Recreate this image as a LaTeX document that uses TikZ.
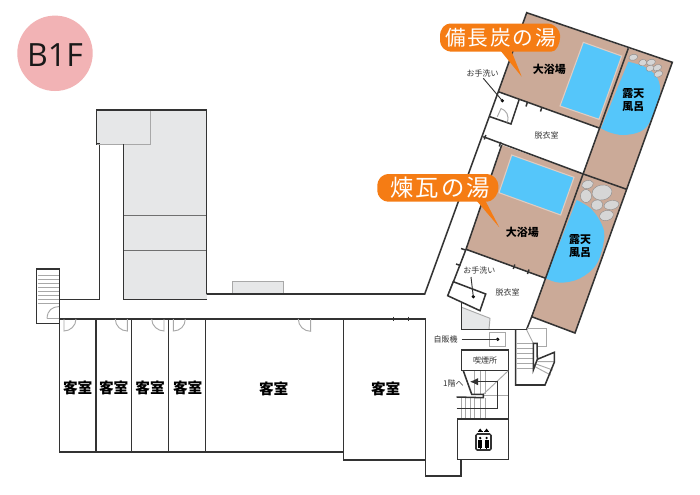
\documentclass[tikz,border=0pt]{standalone}
\usepackage{fontspec}
\setmainfont{Noto Sans CJK JP}
\newfontfamily\jp{Noto Sans CJK JP}
\newfontfamily\jpsp[LetterSpace=9]{Noto Sans CJK JP}
\newfontfamily\latinf{Open Sans}
\usetikzlibrary{arrows.meta}
\definecolor{wall}{HTML}{333333}
\definecolor{brownf}{HTML}{CBAA98}
\definecolor{pool}{HTML}{55C6FA}
\definecolor{grayf}{HTML}{E6E7E8}
\definecolor{grayl}{HTML}{A8A8A8}
\definecolor{orangef}{HTML}{F57C14}
\definecolor{pinkf}{HTML}{F2B3B5}
\definecolor{rockf}{HTML}{D6D6D6}
\tikzset{
  x=0.75pt,y=-0.75pt,
  wl/.style={draw=wall,line width=1.15pt},
  thinw/.style={draw=wall,line width=0.7pt},
  gl/.style={draw=grayl,line width=0.7pt},
  tick/.style={draw=wall,line width=1.1pt},
  rock/.style={fill=rockf,draw=black!45,line width=0.3pt},
  big/.style={font=\fontsize{11}{11}\jp\bfseries,text=black,inner sep=0pt},
  mid/.style={font=\fontsize{8.2}{8.2}\jp\bfseries,text=black,inner sep=0pt},
  small/.style={font=\fontsize{6}{6}\jp,text=wall,inner sep=0pt},
  call/.style={fill=orangef,rounded corners=3pt},
  calltext/.style={font=\fontsize{15.5}{15.5}\jpsp,text=white,inner sep=0pt},
}
\begin{document}
\begin{tikzpicture}[line join=miter]
\useasboundingbox (0,0) rectangle (700,494);
\fill[white] (0,0) rectangle (700,494);

% floor badge
\fill[pinkf] (55,53.3) circle (37.7);
\node[font=\fontsize{24}{24}\latinf,text=black!90,inner sep=0pt] (badge) at (55,55) {B1F};

% gray block at the left
\fill[grayf] (96.7,110) rectangle (206.7,144);
\fill[grayf] (123.3,144) rectangle (206.7,299.3);
\draw[gl] (150,110) -- (150,144) -- (123.3,144);
\draw[gl,draw=wall!70] (123.3,215.7) -- (206.7,215.7) (123.3,250) -- (206.7,250);
\draw[wl] (59.3,299.3) -- (99.3,299.3) -- (99.3,144) -- (96.7,144) -- (96.7,110) -- (206.7,110) -- (206.7,294);
\draw[wl] (123.3,144) -- (123.3,299.3) -- (206.7,299.3);
\draw[gl] (97,144) -- (123.3,144);

% corridor bump
\fill[grayf] (232.7,281) rectangle (283.3,294);
\draw[gl] (232.7,294) -- (232.7,281) -- (283.3,281) -- (283.3,294);

% left stair
\draw[wl] (36.7,269) rectangle (59.3,323.3);
\foreach \y in {275,279,283,287,291,295,299,303}
  \draw[gl] (37.5,\y) -- (58.8,\y);
\draw[gl] (47,318.5) .. controls (47.5,310) and (52,307) .. (59,306.5);
\draw[gl] (47,318.5) -- (59,318.5);

% guest rooms
\draw[wl] (206.7,294) -- (424.7,294) -- (498.3,91.7);
\draw[wl] (59.3,319) -- (425.7,319);
\draw[wl] (59.3,319) -- (59.3,452) -- (343.3,452);
\draw[wl] (96,319) -- (96,452) (131.7,319) -- (131.7,452) (168.7,319) -- (168.7,452) (205.3,319) -- (205.3,452);
\draw[wl] (343.3,319) -- (343.3,460) -- (425.7,460);
\draw[wl] (425.7,319) -- (425.7,476) -- (461,476) -- (461,459.3);
\node[big] (r1) at (77.7,387.7) {客室};
\node[big] (r2) at (113.7,387.7) {客室};
\node[big] (r3) at (150,387.7) {客室};
\node[big] (r4) at (187.7,387.7) {客室};
\node[big] (r5) at (273.7,389) {客室};
\node[big] (r6) at (385.7,389) {客室};

% doors
\draw[gl] (64,319) -- (64,331) .. controls (70,331) and (76,326) .. (76,319);
\draw[gl] (127.3,319) -- (127.3,331) .. controls (121,331) and (115.3,326) .. (115.3,319);
\draw[gl] (164,319) -- (164,331) .. controls (158,331) and (151.7,326) .. (151.7,319);
\draw[gl] (173.3,319) -- (173.3,331) .. controls (180,331) and (185.3,326) .. (185.3,319);
\draw[gl] (310.7,319) -- (310.7,331.3) .. controls (304,331.3) and (298.3,326) .. (298.3,319);
\draw[tick] (393.3,316.5) -- (393.3,321) (408.3,316.5) -- (408.3,321);

% upper bath
\fill[brownf] (526.7,12.7) -- (628.3,48.3) -- (600,128.3) -- (498.3,91.7) -- cycle;
\fill[brownf] (628.3,48.3) -- (672.3,62.3) -- (575,333) -- (531.7,316.7) -- cycle;
\fill[brownf] (501.7,145) -- (583.3,174) -- (545.7,278.3) -- (466,249.3) -- cycle;
\fill[pool,draw=brownf!60!white,line width=0.8pt] (583.3,42.3) -- (621.7,56) -- (599,119.3) -- (560,106) -- cycle;
\fill[pool,draw=brownf!60!white,line width=0.8pt] (511.7,155) -- (574,177.3) -- (560.7,215) -- (499,192.7) -- cycle;

% open-air baths
\fill[pool] plot[smooth,tension=0.6] coordinates {(628.3,61.7) (645,67) (656,76) (660,87) (658.8,98) (650,121.7) (640,131.7) (623.3,135) (610,132.5) (601,128.3)} -- cycle;
\fill[pool] plot[smooth,tension=0.6] coordinates {(576.7,200) (590,208) (600,221) (604.3,236.7) (597,263.3) (580,278.3) (560,282.7) (545.7,278.3)} -- cycle;

% rocks
\foreach \cx/\cy/\rx/\ry/\a in {633.3/57.3/4.5/3/15, 642.7/62.7/4/3.2/15, 651/62.3/4.5/3/15, 657.3/67.7/4.5/3/20, 650/68.3/4/3/15, 658.3/74/4.5/3/20}
  \fill[rock,rotate around={\a:(\cx,\cy)}] (\cx,\cy) ellipse ({\rx} and {\ry});
\foreach \cx/\cy/\rx/\ry/\a in {587.5/184.5/6/4/15, 602/192.5/10/7.5/10, 586/196/5.5/6.5/0, 597/205/6/5/15, 611.5/205/7.5/4.5/10, 606.5/215.5/7/5/15}
  \fill[rock,rotate around={\a:(\cx,\cy)}] (\cx,\cy) ellipse ({\rx} and {\ry});

% bath walls
\draw[wl] (498.3,91.7) -- (526.7,12.7) -- (672.3,62.3) -- (575,333) -- (531.7,316.7) -- (526.7,329.3);
\draw[wl] (628.3,48.3) -- (531.7,316.7);
\draw[wl] (498.3,91.7) -- (600,128.3);
\draw[wl] (483.3,136.7) -- (583.3,174) -- (626.7,189.3);
\draw[wl] (501.7,145) -- (466,249.3) -- (545.7,278.3);
\draw[wl] (466,249.3) -- (448.3,295);
\draw[wl] (490,116.7) -- (511,124) -- (519,100);
\draw[tick] (527.5,102) -- (526,106.5) (542,107) -- (540.5,111.5);
\draw[tick] (485.8,135) -- (484.3,139.5) (500.8,142) -- (499.3,146.5);
\draw[tick] (461,248.5) -- (465.5,250) (456,264) -- (460.5,265.5);
\draw[tick] (514.8,264.5) -- (513.3,269) (529,269.5) -- (527.5,274);

% wash room doors and marks
\draw[gl] (497.3,116.7) -- (501,108.5) .. controls (506,110) and (510,116) .. (507,122.5);
\coordinate (wash1) at (502.3,100.7);
\fill[black] (wash1) circle (1.8);
\node[small] (wash1t) at (482.7,73) {お手洗い};
\draw[thinw] (483.3,78.3) -- (wash1);
\node[small] (dress1) at (546.7,135.7) {脱衣室};
\node[small] (dress2) at (507.7,292.7) {脱衣室};
\node[mid] (bath1) at (549.3,69.3) {大浴場};
\node[mid] (bath2) at (522.3,232.3) {大浴場};
\node[mid] (ro1a) at (633.3,93.5) {露天};
\node[mid] (ro1b) at (633.3,106.5) {風呂};
\node[mid] (ro2a) at (580,239.5) {露天};
\node[mid] (ro2b) at (580,252.3) {風呂};

% lower wash stand
\draw[wl,fill=white] (453.3,281.7) -- (485.7,294) -- (480,310.7) -- (447.7,295.7) -- cycle;
\coordinate (wash2) at (473.3,296.7);
\fill[black] (wash2) circle (1.8);
\node[small] (wash2t) at (479.3,270.7) {お手洗い};
\draw[thinw] (471,277) -- (wash2);

% lower service area
\fill[grayf] (461.7,307.3) -- (490,318.3) -- (489,329.3) -- (461.7,329.3) -- cycle;
\draw[gl] (461.7,307.3) -- (490,318.3) -- (489,329.3);
\draw[wl] (461.7,303) -- (461.7,329.3) -- (526.7,329.3);

% vending machine
\draw[gl] (489.3,332.7) rectangle (505.7,346.7);
\coordinate (vend) at (497.7,339.3);
\fill[black] (vend) circle (1.8);
\coordinate (vendl) at (461.7,339.3);
\draw[thinw] (vendl) -- (vend);
\node[small] (vendt) at (445.7,339.3) {自販機};

% smoking room
\draw[wl] (461.7,350) rectangle (508.3,370.7);
\node[small] (smoke) at (485,360) {喫煙所};
\draw[wl] (508.3,350) -- (508.3,459.3);

% central stair
\foreach \x in {474.3,480,485.7}
  \draw[gl] (\x,371) -- (\x,394);
\foreach \x in {461,465,470,474.3,480,485.7}
  \draw[gl] (\x,397.5) -- (\x,418.5);
\draw[gl] (508.3,370.7) -- (483.3,394.3);
\draw[gl] (483.3,395.7) -- (508.3,395.7);
\draw[wl] (463.3,370.7) -- (471.7,394.3) -- (483.3,394.3) -- (483.3,397.7) -- (456.7,397);
\draw[thinw,-{Latex[length=6pt,width=5.5pt]}] (456.7,408.3) -- (497.3,408.3) -- (497.3,381.7) -- (470,381.7);
\node[small] (up1) at (453.3,383.3) {1階へ};

% elevator
\draw[wl,fill=white] (457.7,419) rectangle (508.3,459.3);
\draw[wl,rounded corners=1pt] (476,434) rectangle (491,450);
\foreach \x in {480.2,486.6}{
  \fill[black] (\x,438) circle (1.3);
  \fill[black] (\x-2,440) rectangle (\x+2,447.5);
  \fill[black] (\x-0.3,447) rectangle (\x+0.3,449);
  \fill[black] (\x-1.8,431) -- (\x+1.8,431) -- (\x,428.5) -- cycle;
  \draw[black,line width=0.5pt] (\x-2.5,431.5) -- (\x+2.5,431.5);
}

% right stair
\foreach \y in {343.3,348.3,353.3,358.3,363.3,368.3}
  \draw[gl] (516.7,\y) -- (533.3,\y);
\draw[gl] (526.7,330) -- (533.3,343.3);
\draw[gl] (526.7,328.3) -- (546.7,328.3) -- (546.7,346.7) -- (537,346.7);
\draw[gl] (537.3,361.7) -- (554.3,361.7) (536,364) -- (552.7,370) (535,366.7) -- (550.7,375);
\draw[wl] (515.7,329.3) -- (515.7,385) -- (545,385) -- (554.3,362.3) -- (554.3,352.3) -- (537.3,359.3) -- (533.3,370) -- (533.3,343.3) -- (537,343.3) -- (537.3,359.3);

% callouts
\fill[orangef] (500,50) -- (511,50) -- (521.7,76.7) -- cycle;
\fill[call] (446,23.5) -- (552,23.5) -- (560,31) -- (560,42) -- (555,51.7) -- (447,51.7) -- (440,45) -- (440,31) -- cycle;
\node[calltext] (c1) at (500.5,37.5) {備長炭の湯};
\fill[orangef] (476,200) -- (485,200) -- (499.3,227.3) -- cycle;
\fill[call] (384,174) -- (491,174) -- (498.3,181) -- (498.3,193) -- (491,201.7) -- (384,201.7) -- (377.3,195) -- (377.3,181) -- cycle;
\node[calltext,font=\fontsize{17.5}{17.5}\jpsp] (c2) at (440,188) {煉瓦の湯};
\end{tikzpicture}
\end{document}
